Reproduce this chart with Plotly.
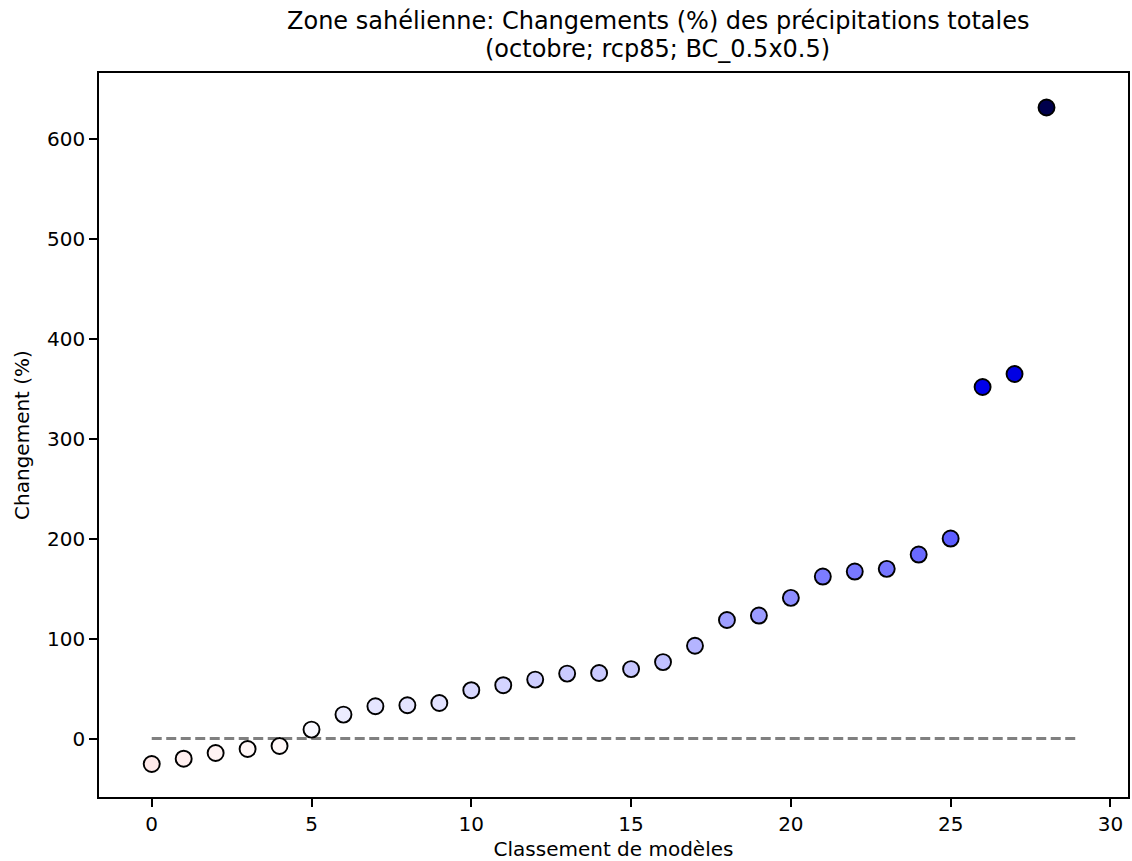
import plotly.graph_objects as go

# Data
rank = list(range(29))
change_pct = [-25.4, -20.1, -14.4, -10.4, -7.4, 9.0, 24.0, 32.3, 33.3, 35.6,
              48.4, 53.4, 59.0, 65.0, 65.6, 69.5, 76.5, 92.8, 118.6, 123.0,
              140.7, 162.0, 167.0, 169.7, 184.0, 200.0, 351.5, 364.5, 631.0]
baseline_x = [0, 29]
baseline_y = [0, 0]
x_ticks = [0, 5, 10, 15, 20, 25, 30]
y_ticks = [0, 100, 200, 300, 400, 500, 600]

title_line1 = "Zone sahélienne: Changements (%) des précipitations totales"
title_line2 = "(octobre; rcp85; BC_0.5x0.5)"

# matplotlib "seismic_r" colormap
seismic_r = [[0.0, 'rgb(127,0,0)'], [0.25, 'rgb(255,0,0)'], [0.5, 'rgb(255,255,255)'],
             [0.75, 'rgb(0,0,255)'], [1.0, 'rgb(0,0,76)']]
vmax = max(abs(v) for v in change_pct)

FONT = "DejaVu Sans, Verdana, sans-serif"
W, H = 1132, 861
L, R, T, B = 99, 2, 73, 64

fig = go.Figure()
fig.add_trace(go.Scatter(
    x=baseline_x, y=baseline_y, mode="lines",
    line=dict(color="#808080", width=3, dash="10px,4.5px"),
    hoverinfo="skip", showlegend=False))
fig.add_trace(go.Scatter(
    x=rank, y=change_pct, mode="markers",
    marker=dict(size=16, color=change_pct, colorscale=seismic_r,
                cmin=-vmax, cmax=vmax,
                line=dict(color="black", width=1.9)),
    showlegend=False))

axis_common = dict(showline=True, linecolor="black", linewidth=1.5, mirror=True,
                   ticks="outside", ticklen=8, tickwidth=1.5, tickcolor="black",
                   showgrid=False, zeroline=False,
                   tickfont=dict(family=FONT, size=20, color="black"))

cx = (L + (W - R)) / 2 / W
fig.add_annotation(text=title_line1, xref="paper", yref="paper",
                   x=cx, xanchor="center",
                   y=1 + (T - 21) / (H - T - B), yanchor="middle",
                   showarrow=False, borderpad=0,
                   font=dict(family=FONT, size=24, color="black"))
fig.add_annotation(text=title_line2, xref="paper", yref="paper",
                   x=cx, xanchor="center",
                   y=1 + (T - 49) / (H - T - B), yanchor="middle",
                   showarrow=False, borderpad=0,
                   font=dict(family=FONT, size=24, color="black"))

fig.update_layout(
    width=W, height=H,
    margin=dict(l=L, r=R, t=T, b=B),
    plot_bgcolor="white", paper_bgcolor="white",
    xaxis=dict(range=[-1.65, 30.55], tickvals=x_ticks,
               title=dict(text="Classement de modèles", standoff=8,
                          font=dict(family=FONT, size=20, color="black")),
               **axis_common),
    yaxis=dict(range=[-58.4, 665.5], tickvals=y_ticks,
               title=dict(text="Changement (%)", standoff=12,
                          font=dict(family=FONT, size=20, color="black")),
               **axis_common),
)

fig.write_html("out.html", config={"displayModeBar": False},
               post_script="document.body.style.margin='0px';"
                           "document.body.style.overflow='hidden';")
